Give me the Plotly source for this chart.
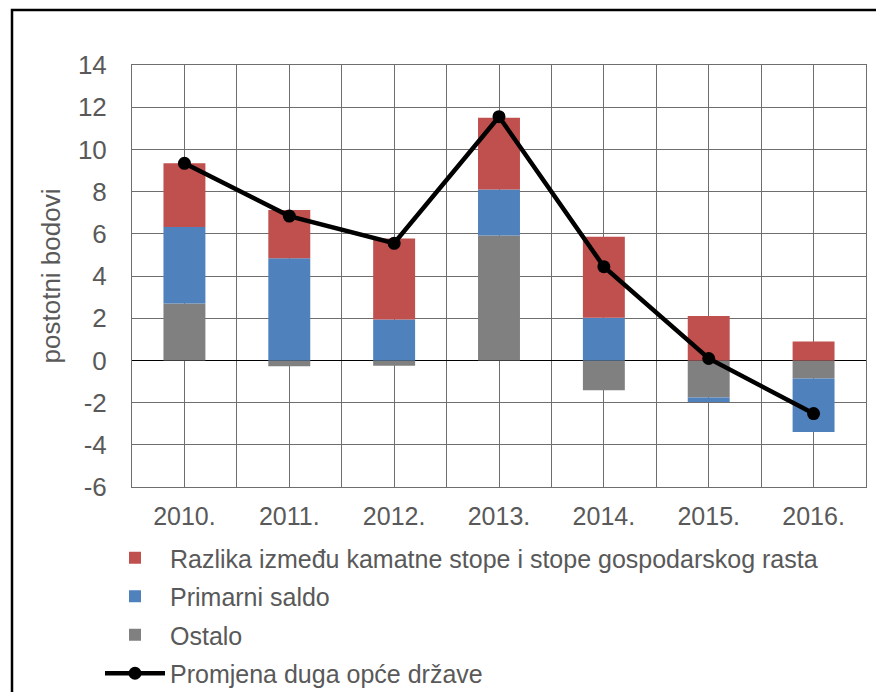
import plotly.graph_objects as go

years = ["2010.", "2011.", "2012.", "2013.", "2014.", "2015.", "2016."]
razlika = [3.02, 2.29, 3.84, 3.4, 3.84, 2.1, 0.9]
primarni = [3.62, 4.84, 1.94, 2.18, 2.02, -0.21, -2.53]
ostalo = [2.7, -0.28, -0.25, 5.92, -1.41, -1.76, -0.86]
promjena = [9.34, 6.84, 5.55, 11.55, 4.44, 0.09, -2.52]

names = ["Razlika između kamatne stope i stope gospodarskog rasta",
         "Primarni saldo", "Ostalo", "Promjena duga opće države"]
yticks = [-6, -4, -2, 0, 2, 4, 6, 8, 10, 12, 14]
yticklabels = [str(v) for v in yticks]

xpos = list(range(len(years)))
FONT = "Liberation Sans, Arial, sans-serif"
TXT = "#595959"
GRID = "#6e6e6e"

fig = go.Figure()
fig.add_trace(go.Bar(x=xpos, y=ostalo, name=names[2], marker_color="#808080",
                     marker_line_width=0, width=0.4, legendrank=3, legendgroup="c"))
fig.add_trace(go.Bar(x=xpos, y=primarni, name=names[1], marker_color="#4F81BD",
                     marker_line_width=0, width=0.4, legendrank=2, legendgroup="b"))
fig.add_trace(go.Bar(x=xpos, y=razlika, name=names[0], marker_color="#C0504D",
                     marker_line_width=0, width=0.4, legendrank=1, legendgroup="a"))
fig.add_trace(go.Scatter(x=xpos, y=promjena, name=names[3], mode="lines+markers",
                         line=dict(color="black", width=4.5),
                         marker=dict(color="black", size=13),
                         legendrank=4, legendgroup="d"))

# page offset of 8px (body margin) compensated
OFF = 8
FW, FH = 884 - OFF, 692 - OFF
L, T = 132 - OFF, 65 - OFF
R = FW - (866 - OFF)
B = FH - (487 - OFF)
W, H = FW - L - R, FH - T - B

def px_x(p):
    return (p - OFF - L) / W

def px_y(p):
    return (FH - B - (p - OFF)) / H

fig.update_layout(
    width=FW, height=FH,
    margin=dict(l=L, r=R, t=T, b=B, autoexpand=False),
    paper_bgcolor="white", plot_bgcolor="white",
    barmode="relative",
    font=dict(family=FONT, color=TXT, size=25),
    showlegend=True,
    legend=dict(x=px_x(100), y=px_y(535), xanchor="left", yanchor="top",
                orientation="v", traceorder="grouped", tracegroupgap=3,
                font=dict(size=25, color=TXT), itemwidth=60,
                bgcolor="rgba(0,0,0,0)"),
    xaxis=dict(range=[-0.5, 6.5], tickvals=xpos, ticktext=years,
               showgrid=True, gridcolor=GRID, gridwidth=1,
               minor=dict(tickvals=[i - 0.5 for i in range(len(years) + 1)],
                          showgrid=True, gridcolor=GRID, gridwidth=1),
               showline=True, linecolor=GRID, linewidth=1, mirror=True,
               ticks="", ticklabelstandoff=7, zeroline=False,
               tickfont=dict(size=25, color=TXT)),
    yaxis=dict(range=[-6, 14], tickvals=yticks, ticktext=yticklabels,
               showgrid=True, gridcolor=GRID,
               gridwidth=1, zeroline=True, zerolinecolor="black", zerolinewidth=1,
               showline=True, linecolor=GRID, linewidth=1, mirror=True,
               ticks="", ticklabelstandoff=19,
               tickfont=dict(size=26, color=TXT),
               title=dict(text="postotni bodovi", standoff=9,
                          font=dict(size=26, color=TXT))),
    shapes=[dict(type="rect", xref="paper", yref="paper",
                 x0=px_x(12), x1=px_x(895), y0=px_y(705), y1=px_y(10),
                 line=dict(color="black", width=2.5), layer="above")],
)

fig.write_html("out.html")
